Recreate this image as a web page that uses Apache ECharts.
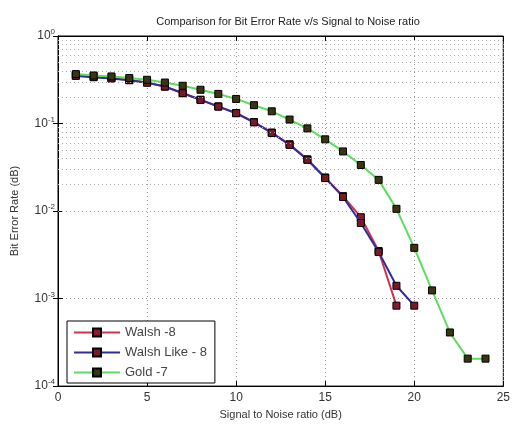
<!DOCTYPE html>
<html><head><meta charset="utf-8">
<script src="https://cdn.jsdelivr.net/npm/echarts@6/dist/echarts.min.js"></script>
<style>html,body{margin:0;padding:0;background:#fff}#c{width:513px;height:425px}</style>
</head><body><div id="c"></div>
<script>
const snr = [1,2,3,4,5,6,7,8,9,10,11,12,13,14,15,16,17,18,19,20,21,22,23,24];
const walsh8 = [0.355,0.342,0.330,0.315,0.295,0.265,0.223,0.187,0.157,0.132,0.104,0.079,0.058,0.039,0.0242,0.0148,0.0085,0.0035,0.00083];
const walshLike8 = [0.350,0.338,0.327,0.312,0.293,0.264,0.222,0.186,0.156,0.131,0.103,0.078,0.057,0.0385,0.0238,0.0145,0.0073,0.0034,0.0014,0.00083];
const gold7 = [0.367,0.354,0.345,0.331,0.316,0.294,0.270,0.243,0.218,0.191,0.162,0.138,0.111,0.088,0.066,0.048,0.0336,0.0227,0.0106,0.0038,0.00124,0.00041,0.000206,0.000206];
const xTicks = [0,5,10,15,20,25];
const yDecades = [0,-1,-2,-3,-4];
const minorMult = [2,3,4,5,6,7,8,9];

const pairs = (ys) => ys.map((v,i)=>[snr[i], v]);
const minorLines = [];
for (let d = -4; d < 0; d++) minorMult.forEach(m => minorLines.push({yAxis: m*Math.pow(10,d)}));

const font = 'Liberation Sans, Arial, sans-serif';
const sq = (fill) => ({color: fill, borderColor: '#000', borderWidth: 1});

const chart = echarts.init(document.getElementById('c'), null, {renderer:'canvas'});
chart.setOption({
  animation: false,
  backgroundColor: '#fff',
  textStyle: {fontFamily: font},
  title: {text: 'Comparison for Bit Error Rate v/s Signal to Noise ratio', left: 283, textAlign: 'center', top: 11,
    textStyle: {fontSize: 11, fontWeight: 'normal', color: '#222', fontFamily: font}},
  grid: {left: 58, right: 6, top: 36, bottom: 37, show: true, borderColor: '#000', borderWidth: 1, backgroundColor: '#fff'},
  legend: {
    orient: 'vertical', left: 67, top: 321,
    padding: [5, 8, 4, 6], itemGap: 7, itemWidth: 46, itemHeight: 10,
    backgroundColor: '#fff', borderColor: '#000', borderWidth: 1, borderRadius: 0,
    textStyle: {fontSize: 13, color: '#444', fontFamily: font},
    data: ['Walsh -8', 'Walsh Like - 8', 'Gold -7']
  },
  xAxis: [{
    type: 'value', min: 0, max: 25, interval: 5,
    name: 'Signal to Noise ratio (dB)', nameLocation: 'middle', nameGap: 22,
    nameTextStyle: {fontSize: 11, color: '#333', fontFamily: font},
    axisLine: {show: true, lineStyle: {color: '#000'}},
    axisTick: {show: true, inside: true, length: 5, lineStyle: {color: '#000'}},
    axisLabel: {fontSize: 12, color: '#333', margin: 6, formatter: v => xTicks.includes(v) ? String(v) : ''},
    splitLine: {show: true, lineStyle: {color: '#999', type: [1, 3], width: 1}}
  },{
    type: 'value', min: 0, max: 25, interval: 5, position: 'top',
    axisLine: {show: true, lineStyle: {color: '#000'}},
    axisTick: {show: true, inside: true, length: 5, lineStyle: {color: '#000'}},
    axisLabel: {show: false}, splitLine: {show: false}
  }],
  yAxis: [{
    type: 'log', logBase: 10, min: 0.0001, max: 1,
    name: 'Bit Error Rate (dB)', nameLocation: 'middle', nameGap: 38, nameRotate: 90,
    nameTextStyle: {fontSize: 11, color: '#333', fontFamily: font},
    axisLine: {show: true, lineStyle: {color: '#000'}},
    axisTick: {show: true, inside: true, length: 5, lineStyle: {color: '#000'}},
    axisLabel: {margin: 3, color: '#333',
      formatter: v => { const e = Math.round(Math.log10(v)); return yDecades.includes(e) ? '{b|10}{s|' + e + '}' : ''; },
      rich: {b: {fontSize: 12, color: '#333', fontFamily: font}, s: {fontSize: 8, color: '#333', verticalAlign: 'top', padding: [0,0,8,0], fontFamily: font}}},
    splitLine: {show: true, lineStyle: {color: '#999', type: [1, 3], width: 1}}
  },{
    type: 'log', logBase: 10, min: 0.0001, max: 1, position: 'right',
    axisLine: {show: true, lineStyle: {color: '#000'}},
    axisTick: {show: true, inside: true, length: 5, lineStyle: {color: '#000'}},
    axisLabel: {show: false}, splitLine: {show: false}
  }],
  series: [
    {type: 'line', name: 'minor', data: [], z: 1, silent: true, showSymbol: false,
     markLine: {silent: true, symbol: ['none','none'], label: {show: false},
       lineStyle: {color: '#aaa', type: [1, 3], width: 1}, data: minorLines}},
    {type: 'line', name: 'Walsh -8', data: pairs(walsh8), z: 3,
     lineStyle: {color: '#cc3350', width: 2}, color: '#cc3350',
     symbol: 'rect', symbolSize: 7, itemStyle: sq('#8a1a2c')},
    {type: 'line', name: 'Walsh Like - 8', data: pairs(walshLike8), z: 4,
     lineStyle: {color: '#2e2e9c', width: 2}, color: '#2e2e9c',
     symbol: 'rect', symbolSize: 7, itemStyle: sq('#7a1828')},
    {type: 'line', name: 'Gold -7', data: pairs(gold7), z: 5,
     lineStyle: {color: '#5fdc5f', width: 2}, color: '#5fdc5f',
     symbol: 'rect', symbolSize: 7, itemStyle: sq('#3a3410')}
  ]
});
</script></body></html>
